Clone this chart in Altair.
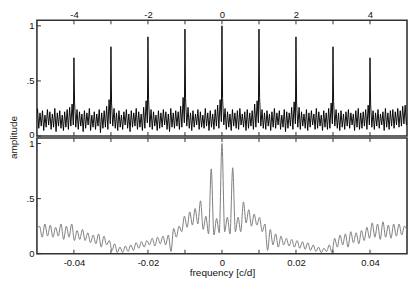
import altair as alt
import pandas as pd

# ---------------- data ----------------
# top panel: spectral window over -5..5 c/d
peak_freq = [-4, -3, -2, -1, 0, 1, 2, 3, 4]
peak_amp = [0.71, 0.81, 0.90, 0.97, 1.00, 0.97, 0.90, 0.81, 0.71]

# upper / lower edge of the noise band, 15 samples per c/d
noise_hi = [
    0.25, 0.21, 0.23, 0.19, 0.24, 0.22, 0.20, 0.25, 0.21, 0.23, 0.19, 0.22, 0.24, 0.26, 0.29,
    0.31, 0.24, 0.22, 0.20, 0.23, 0.21, 0.25, 0.19, 0.22, 0.20, 0.24, 0.21, 0.23, 0.27, 0.33,
    0.30, 0.25, 0.21, 0.23, 0.19, 0.22, 0.24, 0.20, 0.23, 0.21, 0.25, 0.22, 0.20, 0.26, 0.32,
    0.33, 0.24, 0.22, 0.19, 0.23, 0.21, 0.24, 0.22, 0.20, 0.25, 0.21, 0.23, 0.22, 0.27, 0.35,
    0.34, 0.26, 0.21, 0.23, 0.20, 0.24, 0.22, 0.19, 0.25, 0.21, 0.23, 0.20, 0.24, 0.28, 0.33,
    0.34, 0.25, 0.22, 0.20, 0.24, 0.21, 0.23, 0.25, 0.20, 0.22, 0.24, 0.21, 0.23, 0.29, 0.32,
    0.35, 0.24, 0.21, 0.23, 0.20, 0.22, 0.25, 0.21, 0.23, 0.19, 0.24, 0.22, 0.21, 0.26, 0.31,
    0.30, 0.26, 0.22, 0.20, 0.24, 0.21, 0.23, 0.20, 0.25, 0.22, 0.19, 0.23, 0.21, 0.25, 0.30,
    0.31, 0.24, 0.21, 0.23, 0.20, 0.22, 0.24, 0.21, 0.20, 0.23, 0.25, 0.21, 0.22, 0.24, 0.28,
    0.29, 0.23, 0.21, 0.24, 0.20, 0.22, 0.25, 0.21, 0.23, 0.24, 0.22, 0.25, 0.23, 0.27, 0.28,
]
noise_lo = [
    0.07, 0.09, 0.05, 0.08, 0.10, 0.06, 0.08, 0.04, 0.09, 0.07, 0.05, 0.08, 0.06, 0.09, 0.10,
    0.08, 0.06, 0.09, 0.04, 0.07, 0.10, 0.05, 0.08, 0.06, 0.09, 0.03, 0.07, 0.08, 0.06, 0.11,
    0.09, 0.07, 0.05, 0.08, 0.06, 0.10, 0.07, 0.04, 0.08, 0.09, 0.06, 0.08, 0.05, 0.07, 0.12,
    0.08, 0.06, 0.09, 0.05, 0.07, 0.08, 0.10, 0.06, 0.04, 0.08, 0.07, 0.09, 0.06, 0.08, 0.12,
    0.09, 0.07, 0.05, 0.08, 0.10, 0.06, 0.08, 0.07, 0.09, 0.05, 0.08, 0.06, 0.09, 0.07, 0.13,
    0.10, 0.06, 0.08, 0.05, 0.09, 0.07, 0.06, 0.10, 0.08, 0.05, 0.07, 0.09, 0.06, 0.08, 0.12,
    0.09, 0.07, 0.06, 0.09, 0.05, 0.08, 0.07, 0.10, 0.06, 0.08, 0.04, 0.07, 0.09, 0.06, 0.11,
    0.08, 0.06, 0.09, 0.07, 0.05, 0.08, 0.10, 0.06, 0.07, 0.09, 0.05, 0.08, 0.06, 0.07, 0.11,
    0.09, 0.07, 0.05, 0.08, 0.06, 0.09, 0.07, 0.10, 0.05, 0.08, 0.06, 0.07, 0.09, 0.06, 0.10,
    0.08, 0.06, 0.09, 0.07, 0.10, 0.05, 0.08, 0.06, 0.09, 0.07, 0.10, 0.08, 0.09, 0.11, 0.10,
]

# bottom panel: central peak of the window, extrema every half period
win_half = 0.000725
win_left = [  # k = 1..69 going left from 0
    0.19, 0.32, 0.17, 0.77, 0.18, 0.34, 0.22, 0.48, 0.27, 0.41,
    0.26, 0.38, 0.24, 0.34, 0.20, 0.25, 0.15, 0.23, 0.02, 0.17,
    0.08, 0.16, 0.09, 0.15, 0.07, 0.14, 0.08, 0.12, 0.06, 0.11,
    0.05, 0.10, 0.03, 0.08, 0.02, 0.07, 0.01, 0.06, 0.01, 0.09,
    0.03, 0.12, 0.08, 0.16, 0.06, 0.18, 0.09, 0.17, 0.10, 0.19,
    0.12, 0.22, 0.13, 0.21, 0.12, 0.27, 0.15, 0.25, 0.13, 0.27,
    0.16, 0.24, 0.15, 0.26, 0.16, 0.27, 0.15, 0.25, 0.22,
]
win_center = [1.00]
win_right = [  # k = 1..69 going right from 0
    0.20, 0.33, 0.18, 0.78, 0.20, 0.33, 0.20, 0.47, 0.28, 0.40,
    0.25, 0.36, 0.26, 0.33, 0.20, 0.27, 0.03, 0.22, 0.08, 0.18,
    0.06, 0.16, 0.08, 0.14, 0.07, 0.13, 0.06, 0.12, 0.05, 0.11,
    0.04, 0.10, 0.03, 0.08, 0.02, 0.06, 0.01, 0.05, 0.02, 0.08,
    0.01, 0.14, 0.06, 0.17, 0.08, 0.18, 0.06, 0.20, 0.10, 0.19,
    0.09, 0.21, 0.12, 0.24, 0.14, 0.28, 0.15, 0.27, 0.13, 0.29,
    0.15, 0.26, 0.14, 0.27, 0.16, 0.27, 0.17, 0.25, 0.21,
]

top_tick_vals = [-4, -3, -2, -1, 0, 1, 2, 3, 4]
top_label_vals = [-4, -2, 0, 2, 4]
bot_tick_vals = [-0.04, -0.03, -0.02, -0.01, 0, 0.01, 0.02, 0.03, 0.04]
bot_label_vals = [-0.04, -0.02, 0, 0.02, 0.04]
y_tick_vals = [0, 0.5, 1]

# ---------------- tables ----------------
step = 10 / len(noise_hi)
tf, ta = [], []
for i, (h, l) in enumerate(zip(noise_hi, noise_lo)):
    tf += [-5 + (i + 0.25) * step, -5 + (i + 0.75) * step]
    ta += [h, l]
tf += peak_freq
ta += peak_amp
top_df = pd.DataFrame({"f": tf, "a": ta}).sort_values("f").reset_index(drop=True)

n = len(win_left)
win_amp = win_left[::-1] + win_center + win_right
win_freq = [k * win_half for k in range(-n, n + 1)]
bot_df = pd.DataFrame({"f": win_freq, "a": win_amp})

tt_df = pd.DataFrame({"f": top_tick_vals})
bt_df = pd.DataFrame({"f": bot_tick_vals})
yt_df = pd.DataFrame({"a": y_tick_vals})

# ---------------- chart ----------------
W, H1, H2 = 371, 116, 116
FONT = "Liberation Sans"
EDGE = "#333333"
TL = 4

xs_top = alt.Scale(domain=[-5, 5], nice=False, zero=False)
xs_bot = alt.Scale(domain=[-0.05, 0.05], nice=False, zero=False)
ys = alt.Scale(domain=[0, 1.05], nice=False, zero=False)

y_label_expr = "datum.value == 0.5 ? '.5' : format(datum.value, 'd')"

ax_top = alt.Axis(
    orient="top", values=top_label_vals, ticks=False, domain=False, grid=False,
    labelPadding=1, title=None, labelFlush=False,
    labelExpr="datum.value < 0 ? '-' + format(-datum.value, 'd') : format(datum.value, 'd')")
ay_top = alt.Axis(
    values=y_tick_vals, ticks=False, domain=False, grid=False, labelPadding=3,
    labelFlush=False, labelExpr=y_label_expr,
    labelOffset={"condition": {"test": "datum.value == 0", "value": -2}, "value": 0},
    title="amplitude", titleX=-23, titleY=117, titleAngle=270,
    titleAlign="center", titleBaseline="middle")
ax_bot = alt.Axis(
    orient="bottom", values=bot_label_vals, ticks=False, domain=False, grid=False,
    labelPadding=4, labelFlush=False, title="frequency [c/d]", titlePadding=0,
    labelExpr="datum.value == 0 ? '0' : (datum.value < 0 ? '-' : '') + format(abs(datum.value), '.2f')")
ay_bot = alt.Axis(
    values=y_tick_vals, ticks=False, domain=False, grid=False, labelPadding=3,
    labelFlush=False, labelExpr=y_label_expr, title=None)


def panel(line_df, line_mark, xscale, xaxis, yaxis, tick_df, h):
    x = alt.X("f:Q", scale=xscale, axis=xaxis)
    y = alt.Y("a:Q", scale=ys, axis=yaxis)
    line = alt.Chart(line_df).mark_line(clip=True, **line_mark).encode(x=x, y=y)
    t1 = alt.Chart(tick_df).mark_rule(color=EDGE, strokeWidth=1).encode(
        x=x, y=alt.value(0), y2=alt.value(TL))
    t2 = alt.Chart(tick_df).mark_rule(color=EDGE, strokeWidth=1).encode(
        x=x, y=alt.value(h), y2=alt.value(h - TL))
    t3 = alt.Chart(yt_df).mark_rule(color=EDGE, strokeWidth=1).encode(
        y=y, x=alt.value(0), x2=alt.value(TL))
    return alt.layer(line, t1, t2, t3).properties(width=W, height=h)


top = panel(top_df, dict(color="#000000", strokeWidth=1.0, opacity=0.95),
            xs_top, ax_top, ay_top, tt_df, H1)
bot = panel(bot_df, dict(color="#7f7f7f", strokeWidth=1.0, interpolate="monotone"),
            xs_bot, ax_bot, ay_bot, bt_df, H2)

chart = alt.vconcat(top, bot, spacing=2, bounds="flush").properties(
    padding={"top": 0, "left": 0, "right": 0, "bottom": 0},
    background="white",
).configure_view(
    stroke=EDGE, strokeWidth=1.6
).configure_axis(
    labelFont=FONT, labelFontSize=9.5, labelColor="#111111",
    titleFont=FONT, titleFontSize=10, titleColor="#111111", titleFontWeight="normal",
)

chart.save("out.html", embed_options={"renderer": "svg", "actions": False})
